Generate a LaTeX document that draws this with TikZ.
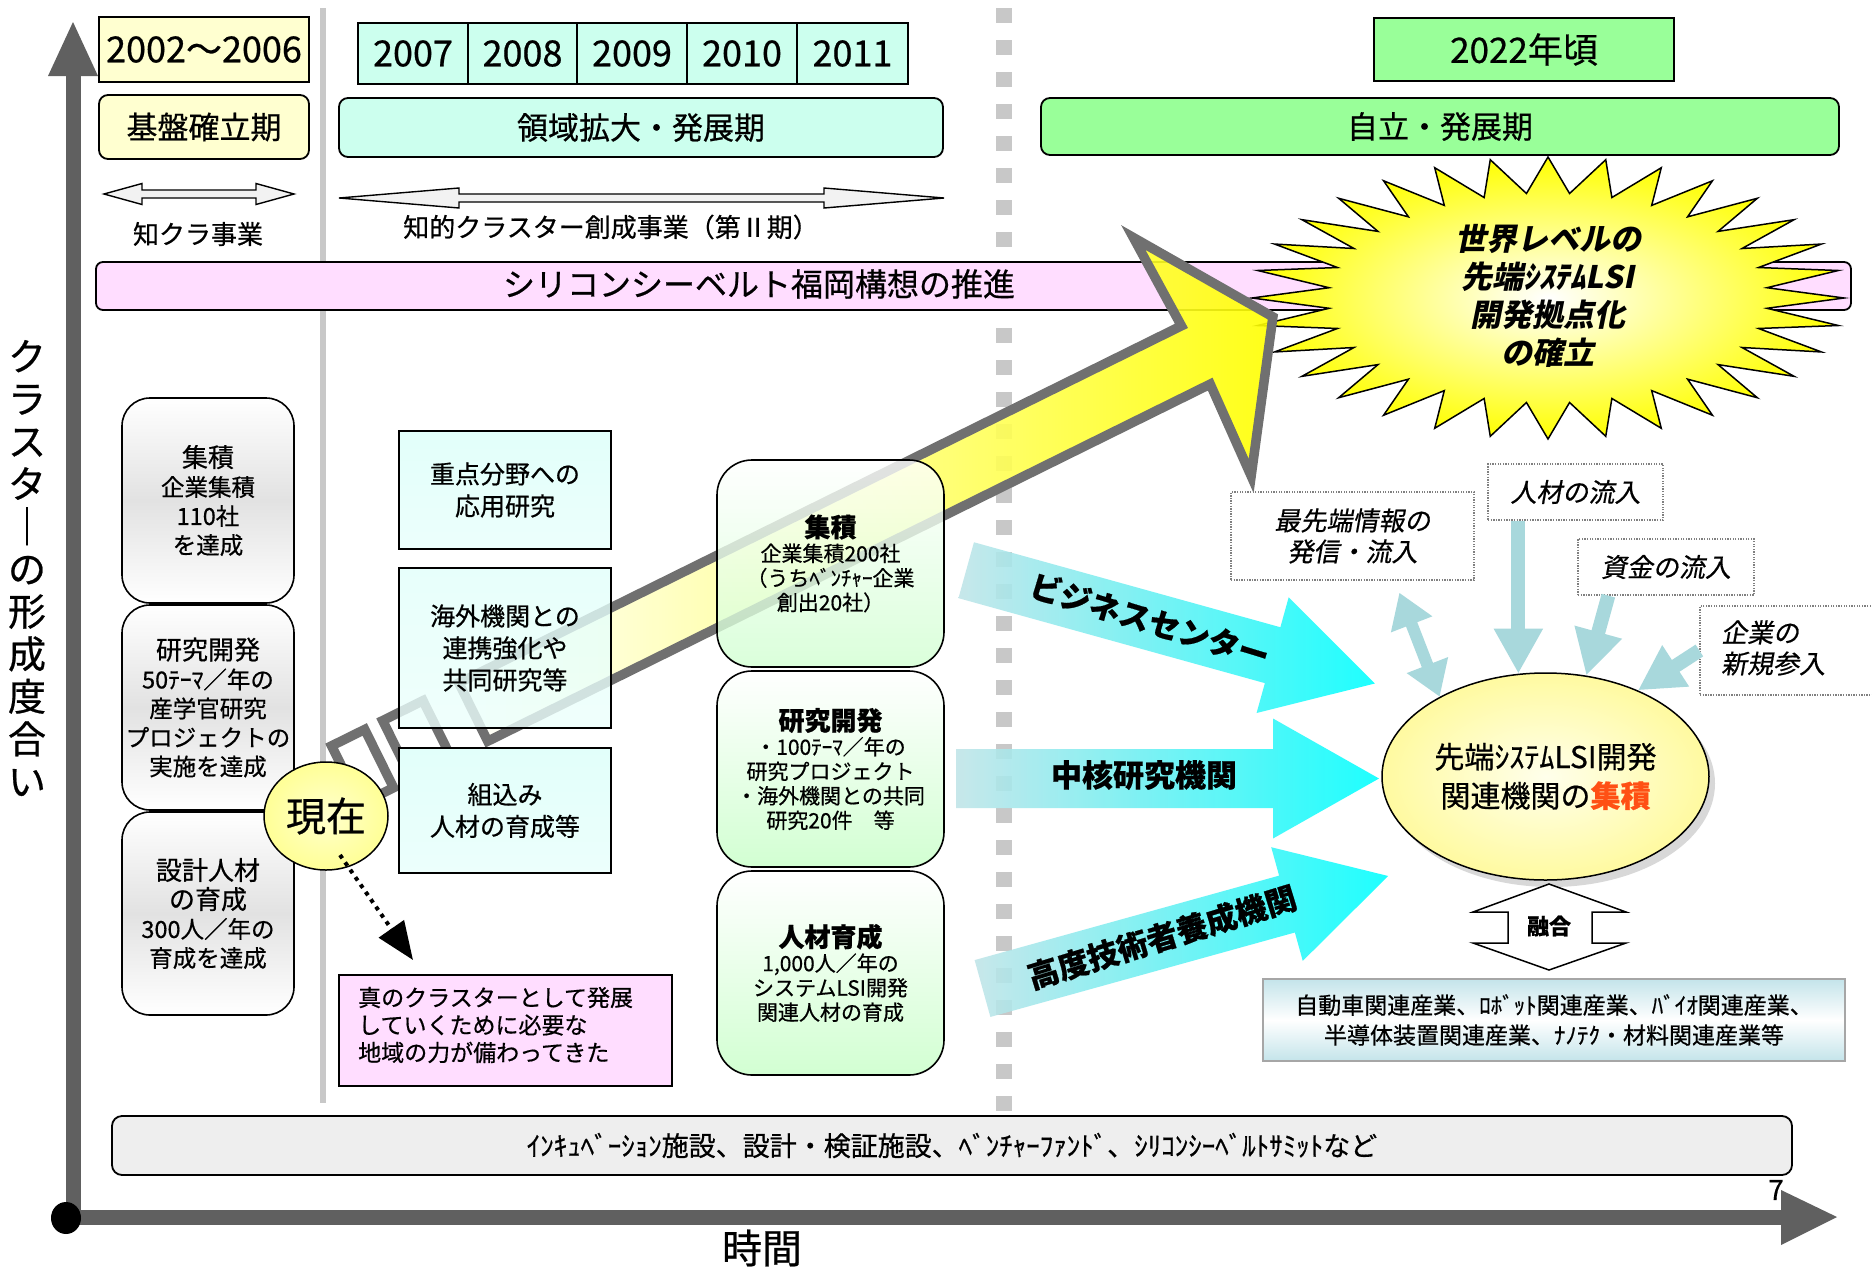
\documentclass[tikz,border=0pt]{standalone}
\usepackage{fontspec}
\setmainfont{Noto Sans CJK JP}[FakeBold=0.6]
\newfontfamily\slantfont{Noto Sans CJK JP}[FakeSlant=0.18, FakeBold=0.6]
\newfontfamily\burstfont{Noto Sans CJK JP}[FakeSlant=0.2]
\usetikzlibrary{arrows.meta,calc,shapes.geometric,shadows}
\newcommand\fsz[2]{\fontsize{#1}{#2}\selectfont}
\definecolor{axisgray}{RGB}{96,96,96}
\definecolor{sepgray}{RGB}{200,200,200}
\definecolor{lyellow}{RGB}{255,255,208}
\definecolor{lcyan}{RGB}{204,255,238}
\definecolor{lgreen}{RGB}{153,255,153}
\definecolor{lpink}{RGB}{255,221,255}
\definecolor{arrowgray}{RGB}{112,112,112}
\definecolor{lblue}{RGB}{168,216,220}
\definecolor{tailcyan}{RGB}{192,228,232}
\definecolor{headcyan}{RGB}{0,255,255}
\definecolor{boxgreen}{RGB}{210,255,210}
\definecolor{boxgray}{RGB}{226,226,226}
\definecolor{cyantop}{RGB}{226,255,250}
\definecolor{cyanbot}{RGB}{236,255,252}
\definecolor{orangered}{RGB}{255,80,20}
\definecolor{barfill}{RGB}{238,238,238}
\definecolor{indblue}{RGB}{196,228,234}
\definecolor{nowyellow}{RGB}{255,255,150}
\definecolor{nowinner}{RGB}{255,255,205}
\definecolor{staryellow}{RGB}{255,255,0}
\begin{document}
\begin{tikzpicture}[x=1pt,y=-1pt,
  every node/.style={inner sep=0pt, align=center},
  ybox/.style={draw=black, line width=1.8pt, font=\fsz{36}{40}},
  phase/.style={draw=black, line width=1.8pt, rounded corners=9pt, font=\fsz{31}{36}},
  dbl/.style={draw=black, line width=1.4pt, fill=gray!10},
  lbl/.style={font=\fsz{26}{30}},
  graybox/.style={draw=black, line width=1.6pt, rounded corners=28pt, minimum width=172pt,
     top color=white, bottom color=white, middle color=boxgray, font=\fsz{23.5}{29}},
  cyanbox/.style={draw=black, line width=1.6pt, minimum width=212pt,
     top color=cyantop, bottom color=cyanbot, font=\fsz{25}{32}},
  greenbox/.style={draw=black, line width=1.6pt, rounded corners=35pt, minimum width=227pt,
     top color=white, bottom color=boxgreen, font=\fsz{21}{24.5}},
  dotbox/.style={draw=gray, line width=1.3pt, dash pattern=on 1.3pt off 1.3pt, fill=white, font=\slantfont\fsz{26}{31}},
  flow/.style={draw=lblue, line width=14pt, -{Triangle[length=45pt,width=46pt]}},
  cyanarrow/.style={left color=tailcyan, right color=headcyan, fill opacity=0.88},
  arrowtext/.style={font=\bfseries\fsz{31}{31}},
  ]
\useasboundingbox (0,0) rectangle (1872,1267);
\fill[white] (0,0) rectangle (1872,1267);

% separators
\draw[sepgray, line width=6pt] (323,8) -- (323,1103);
\draw[sepgray, line width=16pt, dash pattern=on 15pt off 17pt] (1004,8) -- (1004,1112);

% axes
\draw[axisgray, line width=15pt] (73,1218) -- (73,74);
\fill[axisgray] (48,76) -- (98,76) -- (73,22) -- cycle;
\draw[axisgray, line width=15pt] (66,1217) -- (1783,1217);
\fill[axisgray] (1781,1190) -- (1781,1245) -- (1837,1217) -- cycle;
\fill[black] (66,1218) ellipse [x radius=15pt, y radius=16pt];

% top row
\node[ybox, fill=lyellow, minimum width=210pt, minimum height=65pt] (p0) at (204,49.5) {2002～2006};
\node[ybox, fill=lcyan, minimum width=110pt, minimum height=61pt] (y07) at (413,53.5) {2007};
\node[ybox, fill=lcyan, minimum width=109pt, minimum height=61pt] (y08) at (522.5,53.5) {2008};
\node[ybox, fill=lcyan, minimum width=110pt, minimum height=61pt] (y09) at (632,53.5) {2009};
\node[ybox, fill=lcyan, minimum width=110pt, minimum height=61pt] (y10) at (742,53.5) {2010};
\node[ybox, fill=lcyan, minimum width=111pt, minimum height=61pt] (y11) at (852.5,53.5) {2011};
\node[phase, fill=lyellow, minimum width=210pt, minimum height=64pt] (kiban) at (204,127) {基盤確立期};
\node[phase, fill=lcyan, minimum width=604pt, minimum height=59pt] (ryoiki) at (641,127.5) {領域拡大・発展期};
\node[ybox, fill=lgreen, minimum width=300pt, minimum height=63pt, font=\fsz{35}{40}] (y22) at (1524,49.5) {2022年頃};
\node[phase, fill=lgreen, minimum width=798pt, minimum height=57pt] (jiritsu) at (1440,126.5) {自立・発展期};

% double arrows
\path[dbl] (104,194) -- (142,183.5) -- (142,190) -- (256,190) -- (256,183.5) -- (294,194)
   -- (256,204.5) -- (256,198) -- (142,198) -- (142,204.5) -- cycle;
\path[dbl] (339,198) -- (459,188) -- (459,194) -- (824,194) -- (824,188) -- (944,198)
   -- (824,208) -- (824,202) -- (459,202) -- (459,208) -- cycle;
\node[lbl] (chikura) at (198,234) {知クラ事業};
\node[lbl] (chiteki) at (611,227) {知的クラスター創成事業（第Ⅱ期）};

% pink bar
\draw[line width=1.8pt, fill=lpink, rounded corners=7pt] (96,262) rectangle (1851,310);
\node[font=\fsz{32}{36}] (suishin) at (759,284) {シリコンシーベルト福岡構想の推進};

% starburst
\path[draw=black, line width=1.5pt, inner color=white, outer color=staryellow]
  (1844,298) \foreach \k in {0,...,31} {
    -- ({1548+220*cos(\k*11.25+5.625)},{298-105*sin(\k*11.25+5.625)})
    -- ({1548+296*cos((\k+1)*11.25)},{298-141*sin((\k+1)*11.25)}) } -- cycle;
\node[font=\burstfont\bfseries\fsz{31}{38}] (burst) at (1548,296) {世界レベルの\\先端ｼｽﾃﾑLSI\\開発拠点化\\の確立};

% big yellow arrow
\begin{scope}[shift={(1199.4,353.2)}, rotate=26.3]
  \path[draw=arrowgray, line width=9.5pt, left color=white, right color=yellow, fill opacity=0.9]
    (-810,-32.5) -- (-4,-32.5) -- (-8,-133) -- (82,0) -- (-8,133) -- (-4,32.5) -- (-810,32.5) -- cycle;
  \path[draw=arrowgray, line width=9.5pt, fill=white, fill opacity=0.5]
    (-952,-32.5) rectangle (-915,32.5);
  \path[draw=arrowgray, line width=9.5pt, fill=white, fill opacity=0.5]
    (-895,-32.5) rectangle (-850,32.5);
\end{scope}

% left gray boxes
\node[graybox, minimum height=205pt] (g1) at (208,500.5)
  {{\fsz{26}{30}集積}\\企業集積\\110社\\を達成};
\node[graybox, minimum height=205pt] (g2) at (208,707.5)
  {{\fsz{26}{30}研究開発}\\50ﾃｰﾏ／年の\\産学官研究\\プロジェクトの\\実施を達成};
\node[graybox, minimum height=203pt] (g3) at (208,913.5)
  {{\fsz{26}{30}設計人材}\\{\fsz{26}{30}の育成}\\300人／年の\\育成を達成};

% cyan boxes
\node[cyanbox, minimum height=118pt] (c1) at (505,490) {重点分野への\\応用研究};
\node[cyanbox, minimum height=160pt, fill opacity=0.8, text opacity=1] (c2) at (505,648) {海外機関との\\連携強化や\\共同研究等};
\node[cyanbox, minimum height=125pt] (c3) at (505,810.5) {組込み\\人材の育成等};

% green boxes
\node[greenbox, minimum height=207pt, fill opacity=0.8, text opacity=1] (gr1) at (830.5,563.5)
  {{\bfseries\fsz{26}{30}集積}\\企業集積200社\\（うちﾍﾞﾝﾁｬｰ企業\\創出20社）};
\node[greenbox, minimum height=196pt] (gr2) at (830.5,769)
  {{\bfseries\fsz{26}{30}研究開発}\\・100ﾃｰﾏ／年の\\研究プロジェクト\\・海外機関との共同\\研究20件　等};
\node[greenbox, minimum height=204pt] (gr3) at (830.5,973)
  {{\bfseries\fsz{26}{30}人材育成}\\1,000人／年の\\システムLSI開発\\関連人材の育成};

% now
\node[ellipse, draw=black, line width=1.5pt, inner color=nowinner, outer color=nowyellow,
  minimum width=124pt, minimum height=108pt, font=\fsz{40}{44}] (now) at (326,816) {現在};
\coordinate (dotend) at (413,960);
\draw[line width=4pt, dash pattern=on 4pt off 5pt, -{Triangle[length=38pt,width=30pt]}]
  ($(now.center)+(14,39)$) -- (dotend);

% pink note
\node[draw=black, line width=1.4pt, fill=lpink, minimum width=333pt, minimum height=111pt] (shin) at (505.5,1030.5) {};
\node[anchor=west, align=left, font=\fsz{23}{27.5}] (shintxt) at (358,1025)
  {真のクラスターとして発展\\していくために必要な\\地域の力が備わってきた};

% cyan arrows
\begin{scope}[shift={(966.2,570.2)}, rotate=-15.5]
  \path[cyanarrow] (0,-29) -- (318,-29) -- (318,-60) -- (424,0) -- (318,60) -- (318,29) -- (0,29) -- cycle;
\end{scope}
\begin{scope}[shift={(956,778.5)}]
  \path[cyanarrow] (0,-29.5) -- (317,-29.5) -- (317,-60) -- (423,0) -- (317,60) -- (317,29.5) -- (0,29.5) -- cycle;
\end{scope}
\begin{scope}[shift={(982.5,988.5)}, rotate=15.5]
  \path[cyanarrow] (0,-29.5) -- (316,-29.5) -- (316,-59) -- (421,0) -- (316,59) -- (316,29.5) -- (0,29.5) -- cycle;
\end{scope}
\node[arrowtext, rotate=-17] (biz) at (1150,620) {ビジネスセンター};
\node[arrowtext] (chu) at (1144,775) {中核研究機関};
\node[arrowtext, rotate=17] (kodo) at (1162,937) {高度技術者養成機関};

% cluster ellipse
\node[ellipse, draw=black, line width=1.5pt, inner color={rgb,255:red,255;green,255;blue,235},
  outer color={rgb,255:red,255;green,250;blue,160},
  drop shadow={shadow xshift=6pt, shadow yshift=-7pt, opacity=0.3},
  minimum width=327pt, minimum height=207pt, font=\fsz{30}{39}] (ell) at (1545.5,776.5)
  {先端ｼｽﾃﾑLSI開発\\関連機関の{\color{orangered}\bfseries 集積}};

% dotted label boxes
\node[dotbox, minimum width=243pt, minimum height=88pt] (sai) at (1352.5,536) {最先端情報の\\発信・流入};
\node[dotbox, minimum width=175pt, minimum height=56pt] (jin) at (1575.5,492) {人材の流入};
\node[dotbox, minimum width=176pt, minimum height=56pt] (shi) at (1666,567) {資金の流入};
\node[dotbox, minimum width=180pt, minimum height=89pt] (kig) at (1790,650.5) {};
\node[font=\slantfont\fsz{26}{31}, anchor=west, align=left] (kigtxt) at (1721,648) {企業の\\新規参入};

% flows
\draw[lblue, line width=12pt, {Triangle[length=34pt,width=42pt]}-{Triangle[length=34pt,width=42pt]}]
  ($(sai.south west)+(169,12)$) -- (ell.143);
\draw[flow] ($(jin.south west)+(31,0)$) -- ($(jin.south west)+(31,153)$);
\draw[flow] ($(shi.south west)+(31,0)$) -- (ell.68);
\draw[flow] (kig.west) -- (ell.43);

% fusion arrow
\path[draw=black, line width=1.5pt, fill=white] (1549,884) -- (1626,912) -- (1592,912) -- (1592,943)
  -- (1626,943) -- (1549,970) -- (1473,943) -- (1508,943) -- (1508,912) -- (1473,912) -- cycle;
\node[font=\bfseries\fsz{22}{24}] (yugo) at (1549,926) {融合};

% industries
\node[draw=gray!70, line width=2pt, top color=indblue, bottom color=indblue, middle color=white,
  minimum width=582pt, minimum height=82pt, font=\fsz{23}{30}] (ind) at (1554,1020)
  {自動車関連産業、ﾛﾎﾞｯﾄ関連産業、ﾊﾞｲｵ関連産業、\\半導体装置関連産業、ﾅﾉﾃｸ・材料関連産業等};

% bottom bar
\node[draw=black, line width=1.8pt, fill=barfill, rounded corners=10pt,
  minimum width=1680pt, minimum height=59pt, font=\fsz{27}{30}] (bar) at (952,1145.5)
  {ｲﾝｷｭﾍﾞｰｼｮﾝ施設、設計・検証施設、ﾍﾞﾝﾁｬｰﾌｧﾝﾄﾞ、ｼﾘｺﾝｼｰﾍﾞﾙﾄｻﾐｯﾄなど};

% axis labels
\node[font=\fsz{38}{42.5}] (vlab) at (27,568) {ク\\ラ\\ス\\タ\\｜\\の\\形\\成\\度\\合\\い};
\node[font=\fsz{40}{44}] (jikan) at (762,1248) {時間};
\node[font=\fsz{28}{30}] (pnum) at (1776,1190) {7};
\end{tikzpicture}
\end{document}
